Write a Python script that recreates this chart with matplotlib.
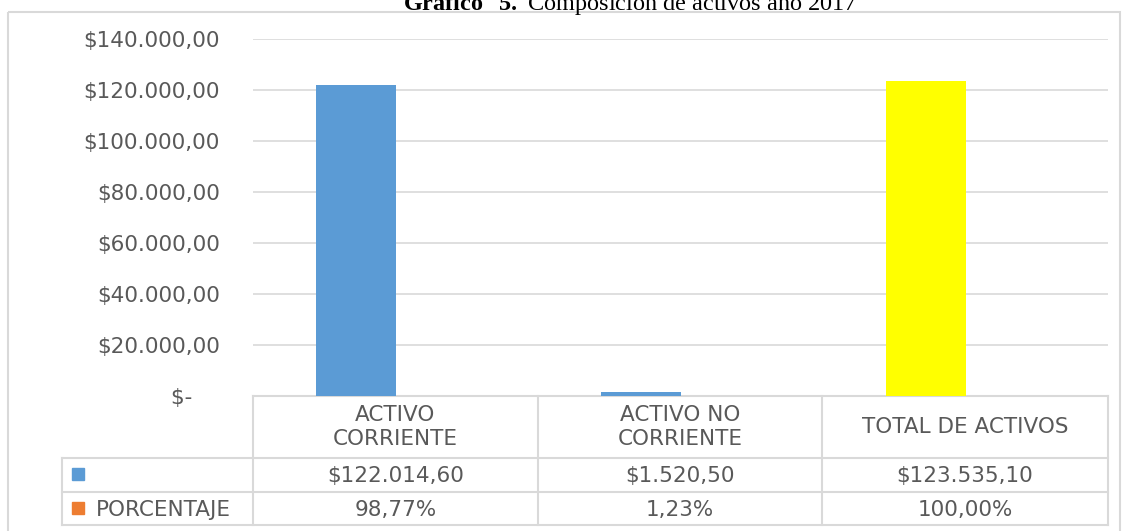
import numpy as np
import matplotlib.pyplot as plt
from matplotlib.patches import Rectangle

plt.rcParams["mathtext.fontset"] = "custom"
plt.rcParams["mathtext.bf"] = "Liberation Serif:bold"
plt.rcParams["mathtext.rm"] = "Liberation Serif"

categorias = ["ACTIVO\nCORRIENTE", "ACTIVO NO\nCORRIENTE", "TOTAL DE ACTIVOS"]
valores = [122014.60, 1520.50, 123535.10]
porcentaje = [98.77, 1.23, 100.00]
colores = ["#5B9BD5", "#5B9BD5", "#FFFF00"]
yticks = [0, 20000, 40000, 60000, 80000, 100000, 120000, 140000]

gris = "#595959"
linea = "#D9D9D9"
fuente = "DejaVu Sans"
fs = 15.5
W, H = 1129, 531


def pesos(v):
    s = f"{v:,.2f}".replace(",", "X").replace(".", ",").replace("X", ".")
    return "$" + s


def pct(v):
    return f"{v:.2f}".replace(".", ",") + "%"


fig = plt.figure(figsize=(W / 100, H / 100), dpi=100)

# capa de fondo en pixeles para marco y tabla
bg = fig.add_axes([0, 0, 1, 1])
bg.set_xlim(0, W)
bg.set_ylim(H, 0)
bg.axis("off")
bg.add_patch(Rectangle((8, 12), 1112, 530, fill=False, ec=linea, lw=1.5))

# grafico de barras
x0, x1, ytop, ybot = 253, 1108, 39, 396
ax = fig.add_axes([x0 / W, (H - ybot) / H, (x1 - x0) / W, (ybot - ytop) / H])
x = np.arange(len(categorias))
w = 0.28
ax.bar(x - w / 2, valores, w, color=colores, zorder=3)
ax.bar(x + w / 2, [p / 100 for p in porcentaje], w, color="#ED7D31", zorder=3)
ax.set_xlim(-0.5, 2.5)
ax.set_ylim(0, 140000)
ax.set_yticks(yticks)
ax.set_yticklabels(["$-    "] + [pesos(t) for t in yticks[1:]],
                   fontsize=fs, color=gris, family=fuente)
ax.tick_params(axis="y", length=0, pad=24)
ax.set_xticks([])
ax.grid(axis="y", color=linea, lw=1.2, zorder=0)
for s in ax.spines.values():
    s.set_visible(False)
ax.patch.set_alpha(0)

# tabla de datos
cols = [253, 538, 822, 1108]
filas = [396, 458, 492, 525]
tx0 = 62
bg.plot([cols[0], cols[-1]], [filas[0], filas[0]], color=linea, lw=1.5)
for yy in filas[1:]:
    bg.plot([tx0, cols[-1]], [yy, yy], color=linea, lw=1.5)
bg.plot([tx0, tx0], [filas[1], filas[3]], color=linea, lw=1.5)
for xx in cols:
    bg.plot([xx, xx], [filas[0], filas[3]], color=linea, lw=1.5)

for i in range(len(categorias)):
    cx = (cols[i] + cols[i + 1]) / 2
    bg.text(cx, (filas[0] + filas[1]) / 2, categorias[i], ha="center", va="center",
            fontsize=fs, color=gris, family=fuente, linespacing=1.2)
    bg.text(cx, (filas[1] + filas[2]) / 2 + 1, pesos(valores[i]), ha="center", va="center",
            fontsize=fs, color=gris, family=fuente)
    bg.text(cx, (filas[2] + filas[3]) / 2 + 1, pct(porcentaje[i]), ha="center", va="center",
            fontsize=fs, color=gris, family=fuente)

bg.add_patch(Rectangle((72, 468), 12, 12, color="#5B9BD5"))
bg.add_patch(Rectangle((72, 502), 12, 12, color="#ED7D31"))
bg.text(96, (filas[2] + filas[3]) / 2 + 1, "PORCENTAJE", ha="left", va="center",
        fontsize=fs, color=gris, family=fuente)

# titulo (cortado en la parte superior, como en la imagen original)
bg.text(630, 10, r"$\bf{Gráfico\ \ 5.}$ Composición de activos año 2017",
        ha="center", va="baseline", fontsize=17.5, family="Liberation Serif")

fig.savefig("out.png", dpi=100)
